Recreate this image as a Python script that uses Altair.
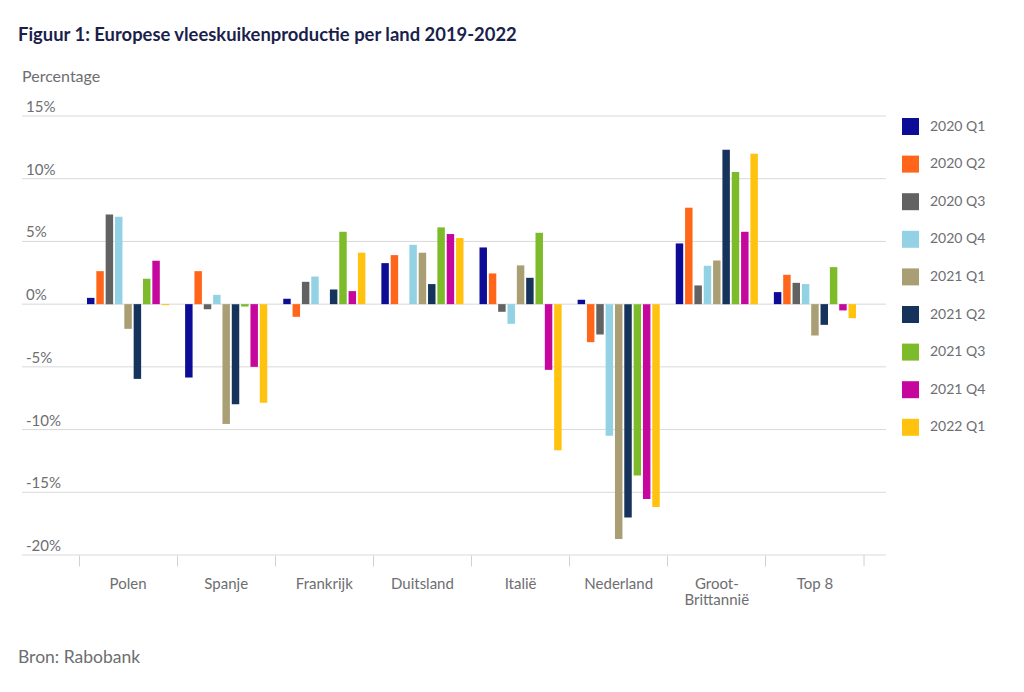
import altair as alt
import pandas as pd

countries = ["Polen", "Spanje", "Frankrijk", "Duitsland", "Italië", "Nederland", "Groot-Brittannië", "Top 8"]
series = ["2020 Q1", "2020 Q2", "2020 Q3", "2020 Q4", "2021 Q1", "2021 Q2", "2021 Q3", "2021 Q4", "2022 Q1"]
colors = ["#0c0c96", "#ff661a", "#626262", "#92d2e4", "#a99e74", "#16335b", "#7dbb2a", "#c6079e", "#ffc20f"]

q2020_1 = [0.5, -5.85, 0.43, 3.27, 4.52, 0.35, 4.84, 0.96]
q2020_2 = [2.63, 2.63, -1.01, 3.91, 2.45, -3.03, 7.69, 2.34]
q2020_3 = [7.15, -0.4, 1.78, 0.0, -0.61, -2.42, 1.49, 1.7]
q2020_4 = [6.97, 0.74, 2.2, 4.73, -1.57, -10.5, 3.06, 1.6]
q2021_1 = [-1.97, -9.55, 0.0, 4.1, 3.09, -18.72, 3.48, -2.5]
q2021_2 = [-5.96, -7.98, 1.17, 1.6, 2.1, -17.02, 12.31, -1.65]
q2021_3 = [2.02, -0.19, 5.77, 6.12, 5.69, -13.67, 10.53, 2.95]
q2021_4 = [3.46, -5.0, 1.04, 5.59, -5.24, -15.53, 5.77, -0.5]
q2022_1 = [-0.08, -7.87, 4.1, 5.27, -11.65, -16.17, 12.0, -1.12]

y_ticks = [-20, -15, -10, -5, 0, 5, 10, 15]
y_tick_labels = ["-20%", "-15%", "-10%", "-5%", "0%", "5%", "10%", "15%"]

all_series = [q2020_1, q2020_2, q2020_3, q2020_4, q2021_1, q2021_2, q2021_3, q2021_4, q2022_1]
rows = []
for s_name, vals in zip(series, all_series):
    for c, v in zip(countries, vals):
        rows.append({"country": c, "series": s_name, "value": v})
df = pd.DataFrame(rows)
ticks_df = pd.DataFrame({"v": y_ticks, "lab": y_tick_labels})

W, H = 785, 439
FONT = "Lato"
GRAY = "#6d6e71"

y_scale = alt.Scale(domain=[-20, 15], nice=False, zero=False)

grid = alt.Chart(ticks_df).mark_rule(color="#d9d9d9", strokeWidth=1).encode(
    y=alt.Y("v:Q", scale=y_scale, axis=None),
    x=alt.value(-57),
    x2=alt.value(W + 22),
)

ylabels = alt.Chart(ticks_df).mark_text(
    align="left", baseline="alphabetic", dy=-4, font=FONT, fontSize=15, color=GRAY
).encode(
    y=alt.Y("v:Q", scale=y_scale, axis=None),
    x=alt.value(-53),
    text="lab:N",
)

bars = alt.Chart(df).mark_bar().encode(
    x=alt.X(
        "country:N",
        sort=countries,
        scale=alt.Scale(paddingInner=0, paddingOuter=0),
        axis=alt.Axis(
            title=None, domain=False, ticks=True, tickSize=11, tickColor="#d0d0d0",
            bandPosition=0, labelAngle=0, labelPadding=22,
            labelBaseline="alphabetic", labelFont=FONT, labelFontSize=15, labelColor=GRAY,
            labelLineHeight=16,
            labelExpr="datum.label == 'Groot-Brittannië' ? ['Groot-', 'Brittannië'] : datum.label",
        ),
    ),
    xOffset=alt.XOffset("series:N", sort=series, scale=alt.Scale(paddingInner=0.2, paddingOuter=0.856)),
    y=alt.Y("value:Q", scale=y_scale, axis=None),
    color=alt.Color(
        "series:N",
        sort=series,
        scale=alt.Scale(domain=series, range=colors),
        legend=alt.Legend(
            title=None, orient="none", legendX=823, legendY=2, symbolType="square",
            symbolSize=289, symbolStrokeWidth=0, labelFont=FONT, labelFontSize=14,
            labelColor=GRAY, labelOffset=11, rowPadding=20.6, padding=0,
        ),
    ),
)

end_tick = alt.Chart(pd.DataFrame({"a": [0]})).mark_rule(color="#d0d0d0").encode(
    x=alt.value(W), y=alt.value(H), y2=alt.value(H + 11)
)

title = alt.Chart(pd.DataFrame({"t": ["Figuur 1: Europese vleeskuikenproductie per land 2019-2022"]})).mark_text(
    align="left", baseline="alphabetic", font=FONT, fontSize=18.4, fontWeight="bold", color="#1b1f4b"
).encode(text="t:N", x=alt.value(-61), y=alt.value(-75))

ylabel = alt.Chart(pd.DataFrame({"t": ["Percentage"]})).mark_text(
    align="left", baseline="alphabetic", font=FONT, fontSize=16, color=GRAY
).encode(text="t:N", x=alt.value(-57), y=alt.value(-34))

source = alt.Chart(pd.DataFrame({"t": ["Bron: Rabobank"]})).mark_text(
    align="left", baseline="alphabetic", font=FONT, fontSize=17.5, color=GRAY
).encode(text="t:N", x=alt.value(-61), y=alt.value(547))

chart = alt.layer(grid, ylabels, bars, end_tick, title, ylabel, source).properties(
    width=W, height=H,
    autosize=alt.AutoSizeParams(type="none"),
    padding={"left": 71, "top": 108, "right": 150, "bottom": 130},
    background="white",
).configure_view(stroke=None)

chart.save("out.html", embed_options={"renderer": "svg", "actions": False})
